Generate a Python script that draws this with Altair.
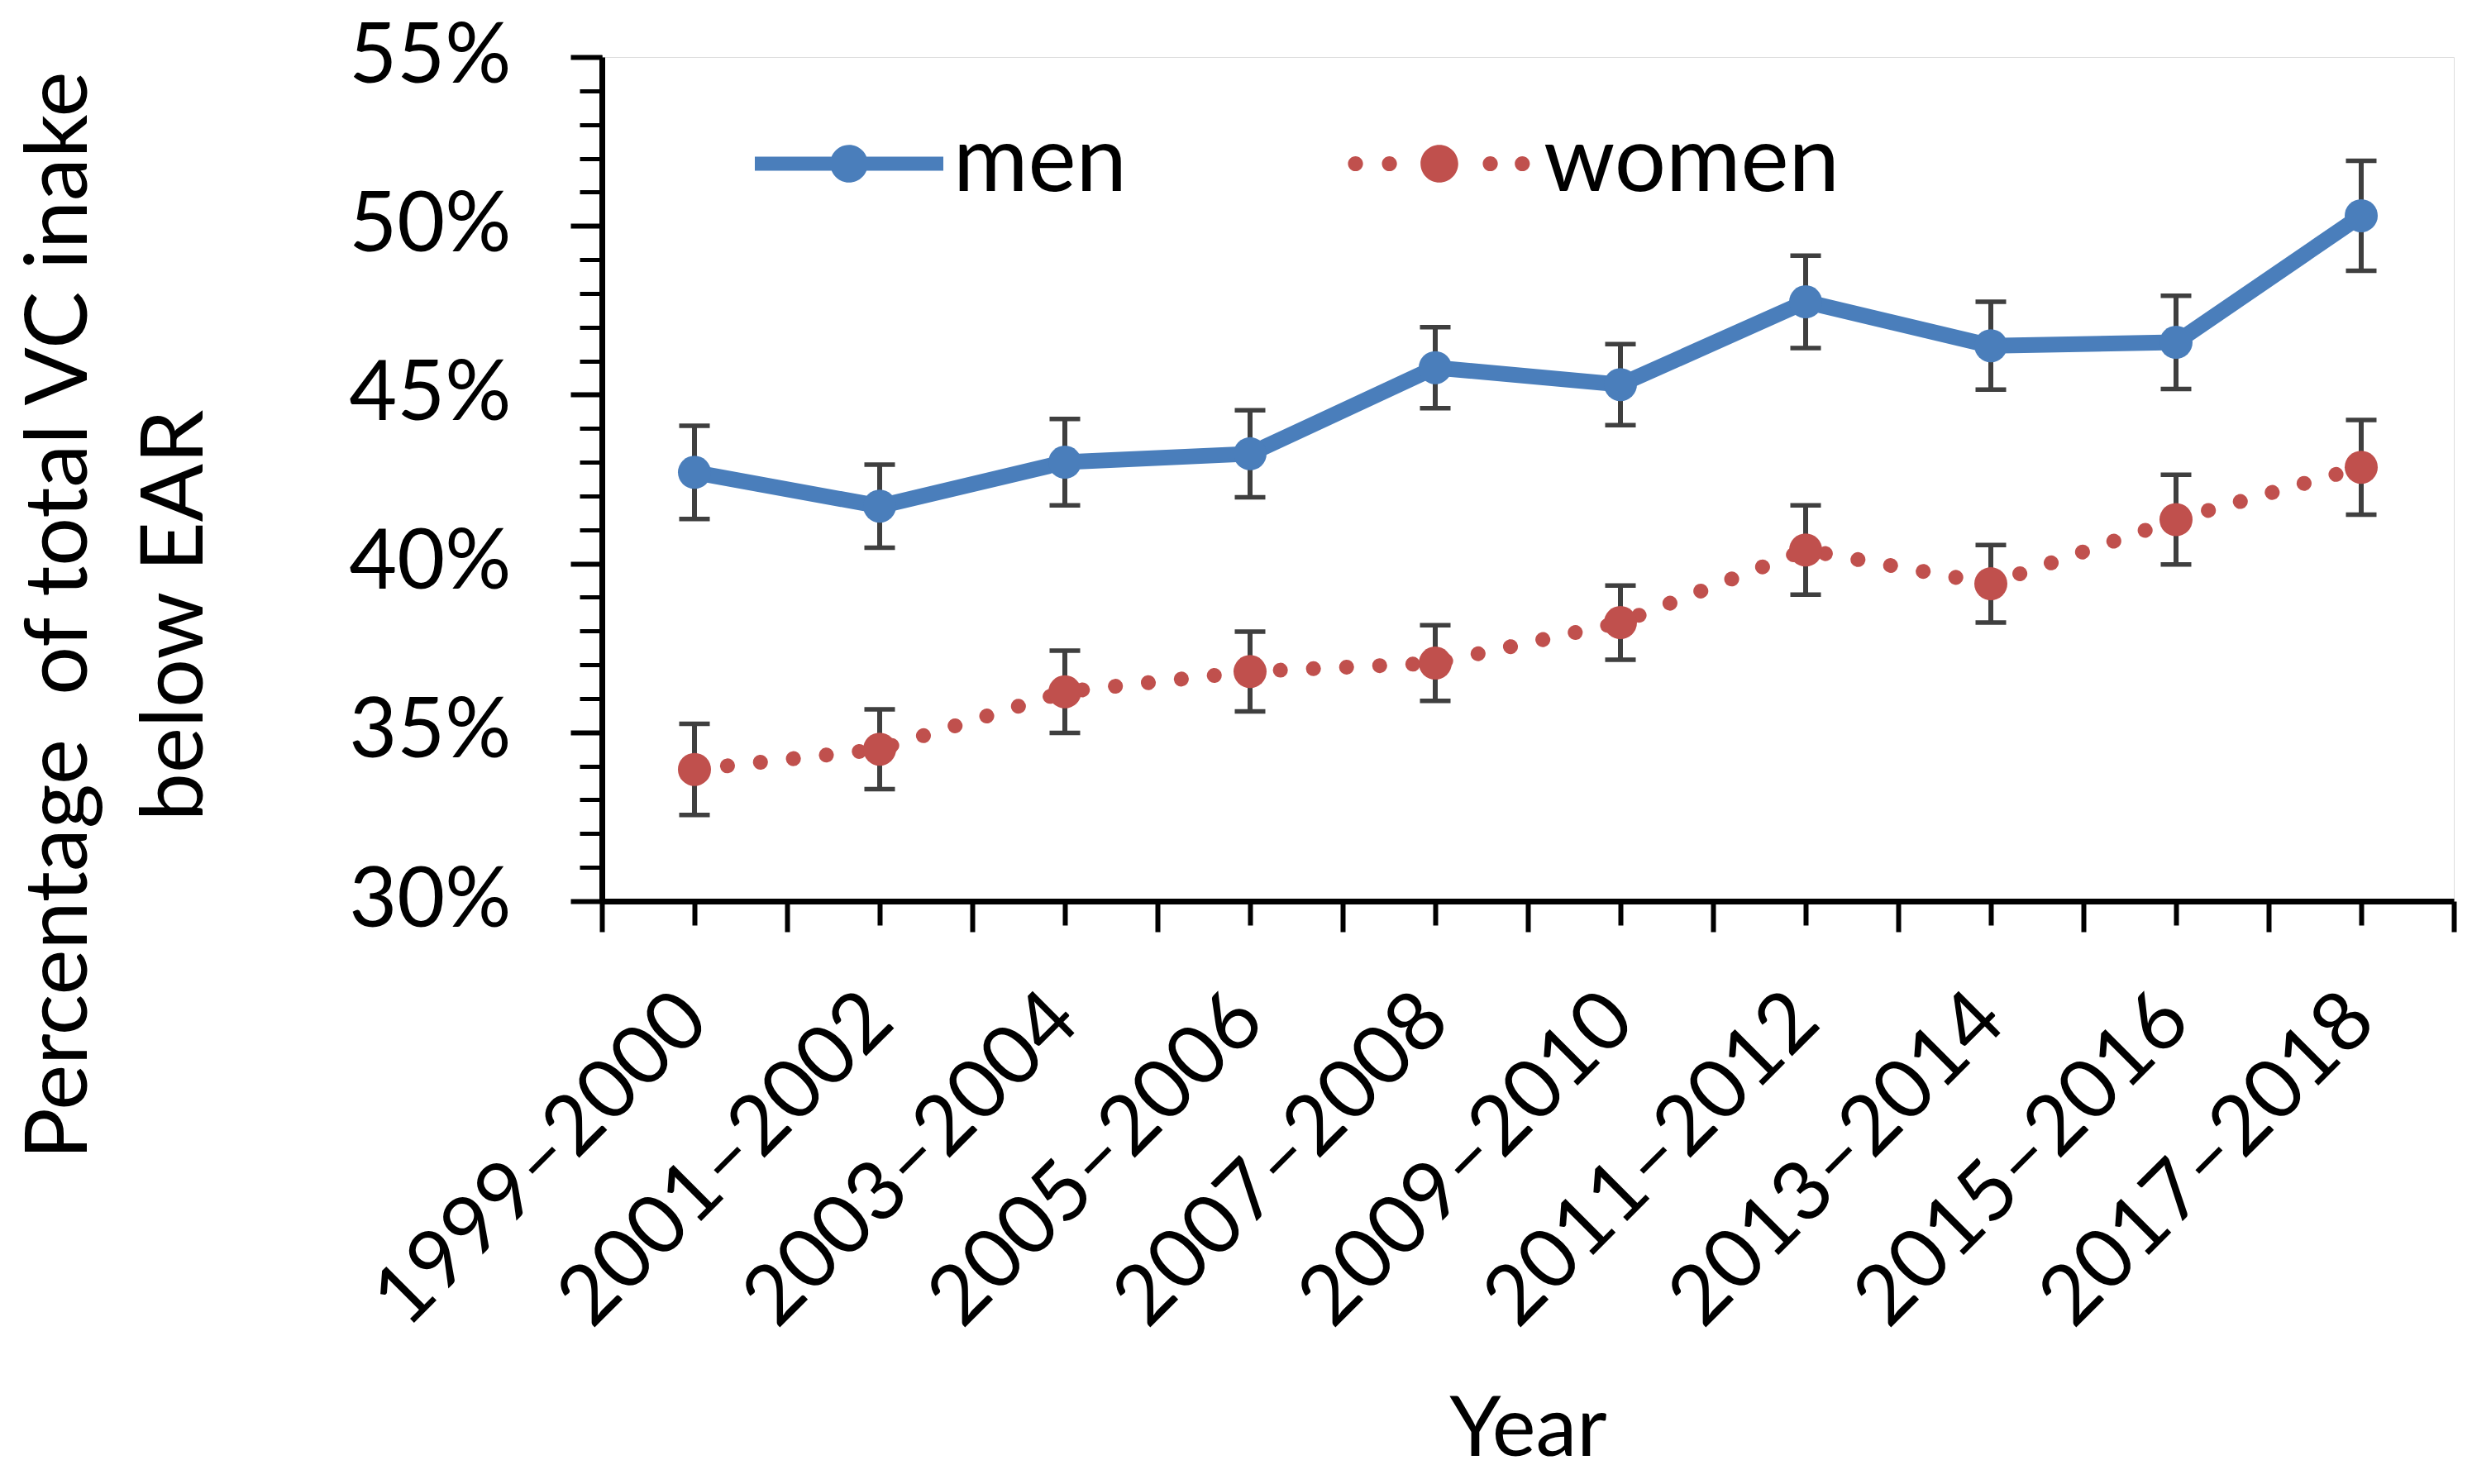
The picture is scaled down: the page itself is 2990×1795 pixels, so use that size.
import altair as alt
import pandas as pd

periods = ["1999–2000", "2001–2002", "2003–2004", "2005–2006", "2007–2008",
           "2009–2010", "2011–2012", "2013–2014", "2015–2016", "2017–2018"]
series_names = ["men", "women"]
men_pct = [42.7, 41.7, 43.0, 43.25, 45.8, 45.3, 47.75, 46.45, 46.55, 50.3]
men_err = [1.38, 1.23, 1.28, 1.29, 1.2, 1.2, 1.37, 1.3, 1.38, 1.63]
women_pct = [33.9, 34.5, 36.2, 36.8, 37.05, 38.25, 40.4, 39.4, 41.3, 42.85]
women_err = [1.35, 1.18, 1.22, 1.18, 1.12, 1.1, 1.32, 1.15, 1.33, 1.4]
y_major_ticks = [30, 35, 40, 45, 50, 55]
y_minor_ticks = list(range(30, 56))

MEN_COLOR = "#4A7EBB"
WOMEN_COLOR = "#C0504D"
ERR_COLOR = "#3F3F3F"
FONT = "Lato"

rows = []
for name, vals, errs in (("men", men_pct, men_err), ("women", women_pct, women_err)):
    for p, v, e in zip(periods, vals, errs):
        rows.append({"period": p, "series": name, "value": v / 100,
                     "lo": (v - e) / 100, "hi": (v + e) / 100})
df = pd.DataFrame(rows)

xscale = alt.Scale(type="band", domain=periods, paddingInner=0, paddingOuter=0)
yscale = alt.Scale(domain=[0.30, 0.55], nice=False, zero=False)
color_scale = alt.Scale(domain=series_names, range=[MEN_COLOR, WOMEN_COLOR])

men_path = ("M-1,-0.075L1,-0.075L1,0.075L-1,0.075Z "
            "M0.2,0A0.2,0.2 0 1,1 -0.2,0A0.2,0.2 0 1,1 0.2,0Z")


def dot(cx, r):
    return (f"M{cx + r:.3f},0A{r},{r} 0 1,1 {cx - r:.3f},0"
            f"A{r},{r} 0 1,1 {cx + r:.3f},0Z")


women_path = " ".join([dot(-0.89, 0.08), dot(-0.53, 0.08), dot(0.0, 0.2),
                       dot(0.54, 0.08), dot(0.88, 0.08)])

x_main_axis = alt.Axis(orient="bottom", title="Year", tickSize=29, tickWidth=6,
                       tickColor="black", domainColor="black", domainWidth=7,
                       labelAngle=-45, labelAlign="right", labelBaseline="middle",
                       labelPadding=99, labelFont=FONT, labelFontSize=100,
                       labelColor="black", labelLimit=0, labelOverlap=False,
                       titleFont=FONT, titleFontSize=100, titleFontWeight="normal",
                       titleColor="black", titleY=670, titleBaseline="alphabetic",
                       grid=False)
x_minor_axis = alt.Axis(orient="bottom", title=None, tickBand="extent", tickSize=37,
                        tickWidth=6, tickColor="black", labels=False, domain=False,
                        grid=False)
y_main_axis = alt.Axis(orient="left",
                       title=["Percentage\u00a0 of total VC inake", "below EAR"],
                       values=[t / 100 for t in y_major_ticks], format=".0%",
                       tickSize=38, tickWidth=6, tickColor="black",
                       domainColor="black", domainWidth=7,
                       labelFont=FONT, labelFontSize=100, labelColor="black",
                       labelPadding=72, labelLimit=0,
                       titleFont=FONT, titleFontSize=104, titleFontWeight="normal",
                       titleColor="black", titleX=-655, titleY=675, titleAngle=-90,
                       titleAlign="center", titleBaseline="middle",
                       titleLineHeight=140, grid=False)
y_minor_axis = alt.Axis(orient="left", title=None,
                        values=[t / 100 for t in y_minor_ticks],
                        tickSize=27, tickWidth=5, tickColor="black",
                        labels=False, domain=False, grid=False)

legend_def = alt.Legend(
    title=None, orient="none", direction="horizontal", legendX=185, legendY=15,
    symbolSize=51984, symbolStrokeWidth=0, symbolOpacity=1,
    labelFont=FONT, labelFontSize=110, labelColor="black", labelOffset=12,
    columnPadding=264, labelLimit=0, padding=0)

base = alt.Chart(df)

err_rule = base.mark_rule(color=ERR_COLOR, strokeWidth=6).encode(
    x=alt.X("period:N", scale=xscale, sort=periods, axis=x_minor_axis),
    y=alt.Y("lo:Q", scale=yscale, axis=y_minor_axis),
    y2="hi:Q",
)
cap_lo = base.mark_tick(color=ERR_COLOR, thickness=5.5, size=37, opacity=1).encode(
    x=alt.X("period:N", scale=xscale, sort=periods, axis=None),
    y=alt.Y("lo:Q", scale=yscale, axis=None),
)
cap_hi = base.mark_tick(color=ERR_COLOR, thickness=5.5, size=37, opacity=1).encode(
    x=alt.X("period:N", scale=xscale, sort=periods, axis=None),
    y=alt.Y("hi:Q", scale=yscale, axis=None),
)
men_line = base.transform_filter(alt.datum.series == "men").mark_line(
    color=MEN_COLOR, strokeWidth=19, strokeJoin="round").encode(
    x=alt.X("period:N", scale=xscale, sort=periods, axis=x_main_axis),
    y=alt.Y("value:Q", scale=yscale, axis=y_main_axis),
)
women_line = base.transform_filter(alt.datum.series == "women").mark_line(
    color=WOMEN_COLOR, strokeWidth=18, strokeDash=[0.1, 40], strokeCap="round").encode(
    x=alt.X("period:N", scale=xscale, sort=periods, axis=None),
    y=alt.Y("value:Q", scale=yscale, axis=None),
)
legend_layer = base.mark_point(filled=True, opacity=0).encode(
    x=alt.X("period:N", scale=xscale, sort=periods, axis=None),
    y=alt.Y("value:Q", scale=yscale, axis=None),
    color=alt.Color("series:N", scale=color_scale, legend=legend_def),
    shape=alt.Shape("series:N", scale=alt.Scale(domain=series_names,
                                                range=[men_path, women_path]),
                    legend=legend_def),
)
points = base.mark_point(filled=True, size=1600, opacity=1).encode(
    x=alt.X("period:N", scale=xscale, sort=periods, axis=None),
    y=alt.Y("value:Q", scale=yscale, axis=None),
    color=alt.Color("series:N", scale=color_scale, legend=None),
)

chart = alt.layer(err_rule, cap_lo, cap_hi, men_line, women_line, legend_layer, points
                  ).resolve_axis(x="independent", y="independent").properties(
    width=2240, height=1021,
    padding={"left": 720, "top": 61, "right": 10, "bottom": 690},
    autosize=alt.AutoSizeParams(type="none"),
).configure_view(stroke=None).configure(font=FONT, background="white")

chart.save("out.html", embed_options={"renderer": "svg", "actions": False})
